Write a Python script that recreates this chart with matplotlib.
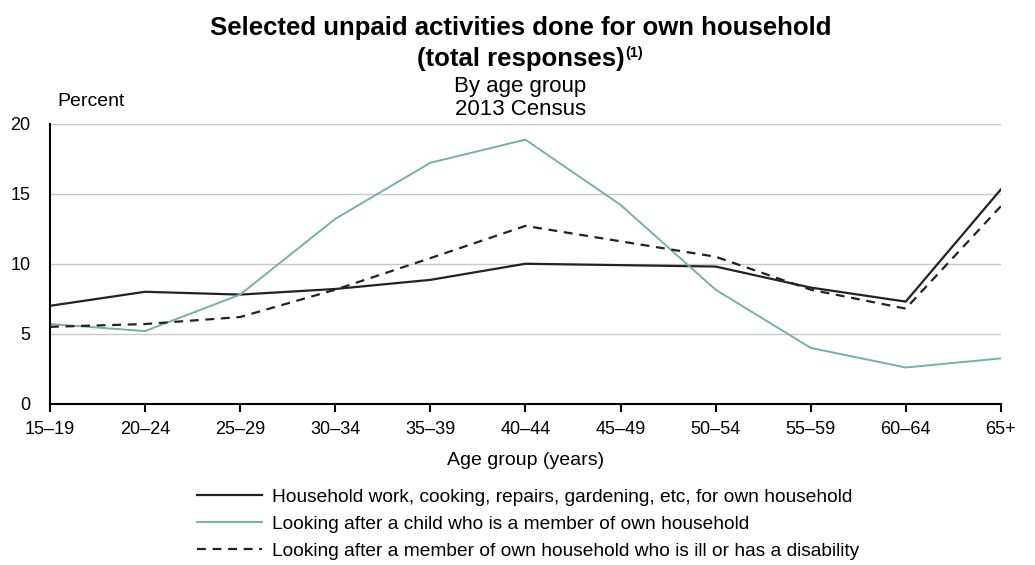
import matplotlib
matplotlib.use("Agg")
import matplotlib.pyplot as plt

plt.rcParams['font.family'] = ['Liberation Sans', 'DejaVu Sans']

age_groups = ['15–19', '20–24', '25–29', '30–34', '35–39', '40–44',
              '45–49', '50–54', '55–59', '60–64', '65+']
household_work = [7.0, 8.0, 7.8, 8.2, 8.85, 10.0, 9.9, 9.8, 8.3, 7.3, 15.3]
child_care = [5.7, 5.2, 7.8, 13.2, 17.2, 18.85, 14.2, 8.15, 4.0, 2.6, 3.25]
ill_disabled = [5.5, 5.7, 6.2, 8.15, 10.4, 12.7, 11.6, 10.5, 8.15, 6.8, 14.1]

labels = ['Household work, cooking, repairs, gardening, etc, for own household',
          'Looking after a child who is a member of own household',
          'Looking after a member of own household who is ill or has a disability']

fig = plt.figure(figsize=(10.35, 5.65), dpi=100)
ax = fig.add_axes([0.0483, 0.285, 0.9187, 0.4964])

x = range(len(age_groups))
l1, = ax.plot(x, household_work, color='#222222', lw=1.6)
l2, = ax.plot(x, child_care, color='#77b0ab', lw=1.4)
l3, = ax.plot(x, ill_disabled, color='#222222', lw=1.6, ls=(0, (4, 3)))

ax.set_xlim(0, 10)
ax.set_ylim(0, 20)
ax.set_yticks([0, 5, 10, 15, 20])
ax.set_xticks(list(x))
ax.set_xticklabels(age_groups)
ax.grid(axis='y', color='#c8c8c8', lw=1)
ax.set_axisbelow(True)
for s in ['top', 'right']:
    ax.spines[s].set_visible(False)
ax.spines['left'].set_linewidth(1.5)
ax.spines['bottom'].set_linewidth(1.5)
ax.tick_params(axis='y', length=0, pad=14, labelsize=13)
ax.tick_params(axis='x', length=6, width=1.5, direction='out', labelsize=13, pad=6)
ax.set_xlabel('Age group (years)', fontsize=14, labelpad=10)

fig.text(0.055, 0.82, 'Percent', fontsize=14, va='center')

fig.text(0.503, 0.951, 'Selected unpaid activities done for own household',
         fontsize=18.5, fontweight='bold', ha='center', va='center')
t2 = fig.text(0.503, 0.895, '(total responses)', fontsize=18.5, fontweight='bold',
              ha='center', va='center')
fig.canvas.draw()
bb = t2.get_window_extent()
fig.text(bb.x1 / fig.bbox.width + 0.001, 0.906, '(1)', fontsize=10.5, fontweight='bold',
         ha='left', va='center')
fig.text(0.503, 0.847, 'By age group', fontsize=16, ha='center', va='center')
fig.text(0.503, 0.807, '2013 Census', fontsize=16, ha='center', va='center')

fig.legend([l1, l2, l3], labels, loc='upper left', bbox_to_anchor=(0.19, 0.135),
           frameon=False, fontsize=13.8, handlelength=3.4, handletextpad=0.55,
           labelspacing=0.5, borderaxespad=0, borderpad=0)

fig.savefig('out.png', dpi=100)
